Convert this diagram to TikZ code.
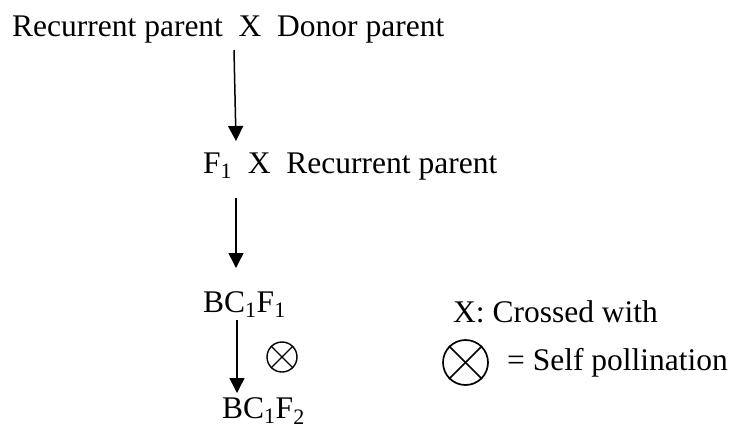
\documentclass[tikz,border=0pt]{standalone}
\usepackage{fontspec}
\setmainfont{Liberation Serif}
\usetikzlibrary{arrows.meta}

\begin{document}
\begin{tikzpicture}[x=1pt, y=-1pt,
    every node/.style={font=\fontsize{31.5}{36}\selectfont, inner sep=0pt, anchor=base west},
    gen/.style={-{Triangle[width=15pt,length=15pt]}, line width=1.5pt},
    selfmark/.style={circle, draw, anchor=center, line width=1.4pt}]
  \useasboundingbox (0,0) rectangle (734,429);
  % generations
  \node (cross0) at (12,36) {Recurrent parent~~X~~Donor parent};
  \node (cross1) at (203,173) {F\textsubscript{1}~~X~~Recurrent parent};
  \node (bcf1) at (203,312) {BC\textsubscript{1}F\textsubscript{1}};
  \node (bcf2) at (222,418) {BC\textsubscript{1}F\textsubscript{2}};
  % arrows between generations
  \coordinate (a0) at (234,50);  \coordinate (b0) at (236,141);
  \coordinate (a1) at (236,198); \coordinate (b1) at (236,268);
  \coordinate (a2) at (237,320); \coordinate (b2) at (237,393);
  \draw[gen] (a0) -- (b0);
  \draw[gen] (a1) -- (b1);
  \draw[gen] (a2) -- (b2);
  % selfing sign by the last arrow
  \node[selfmark, minimum size=30pt] (self) at (282,357) {};
  \draw[line width=1.4pt] (self.north west) -- (self.south east);
  \draw[line width=1.4pt] (self.north east) -- (self.south west);
  % legend
  \node (keyx) at (453,322) {X: Crossed with};
  \node[selfmark, minimum size=45pt, line width=1.7pt] (keyself) at (465.5,362.5) {};
  \draw[line width=1.7pt] (keyself.north west) -- (keyself.south east);
  \draw[line width=1.7pt] (keyself.north east) -- (keyself.south west);
  \node (keytext) at (507,370) {= Self pollination};
\end{tikzpicture}
\end{document}
